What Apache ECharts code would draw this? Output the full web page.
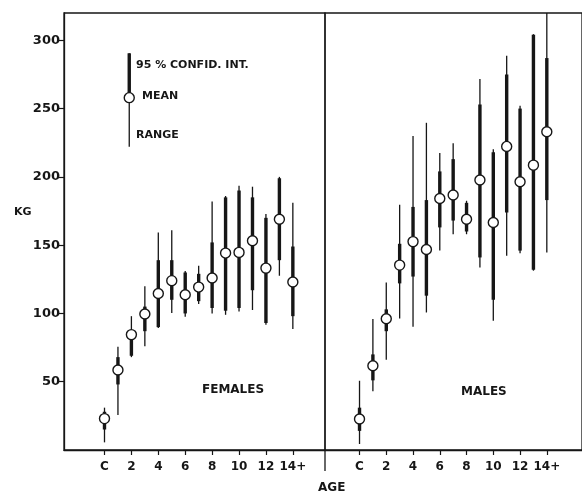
<!DOCTYPE html>
<html>
<head>
<meta charset="utf-8">
<script src="https://cdn.jsdelivr.net/npm/echarts@6/dist/echarts.min.js"></script>
<style>
  html, body { margin: 0; padding: 0; background: #fff; }
  #chart { width: 582px; height: 493px; }
</style>
</head>
<body>
<div id="chart"></div>
<script>
// ---- data ----
const ages = [0, 1, 2, 3, 4, 5, 6, 7, 8, 9, 10, 11, 12, 13, 14];
const ageTickValues = [0, 2, 4, 6, 8, 10, 12, 14];
const ageTickLabels = ['C', '2', '4', '6', '8', '10', '12', '14+'];
const kgTickValues = [50, 100, 150, 200, 250, 300];

const femaleMean      = [23, 58.6, 84.5, 99.6, 114.6, 124, 113.7, 119.3, 126, 144.2, 144.7, 153.2, 133.2, 169, 123];
const femaleCILow     = [15, 48, 69, 87, 90, 110, 100, 109, 104, 102, 104, 117, 93, 139, 98];
const femaleCIHigh    = [28, 68, 87, 105, 139, 139, 130, 129, 152, 185, 190, 185, 170, 199, 149];
const femaleRangeLow  = [5.6, 25.6, 68, 76, 89.3, 100.3, 97.6, 107, 100, 99, 101.5, 102.5, 91.7, 127.6, 88.6];
const femaleRangeHigh = [31, 75.6, 98, 120, 159.3, 161, 131, 135, 182, 186, 193.5, 192.8, 172.8, 200, 181];

const maleMean      = [22.7, 61.7, 96.1, 135.4, 152.6, 146.8, 184.2, 186.7, 169, 197.7, 166.6, 222.3, 196.4, 208.6, 233];
const maleCILow     = [14, 51, 87, 122, 127, 113, 163, 168, 160, 141, 110, 174, 146, 132, 183];
const maleCIHigh    = [31, 70, 103, 151, 178, 183, 204, 213, 181, 253, 218, 275, 250, 304, 287];
const maleRangeLow  = [4.4, 43, 66, 96.3, 90.3, 100.7, 146, 158, 158, 133.7, 94.7, 142.2, 144, 131.3, 144.7];
const maleRangeHigh = [50.7, 95.9, 122.7, 179.6, 230, 239.6, 217.4, 224.7, 182.5, 271.6, 220.3, 288.7, 252, 304.5, 320];

// legend key (drawn in the females panel, same mark style)
const keyAge = 1.84;
const keyRangeLow = 222;
const keyMean = 258;
const keyCITop = 290.5;

// ---- build ----
function rows(mean, cil, cih, rl, rh) {
  return ages.map((a, i) => [a, rl[i], rh[i], cil[i], cih[i], mean[i]]);
}
const INK = '#161616';
const FONT = 'DejaVu Sans';

function renderItem(params, api) {
  const x = api.value(0);
  const p = v => api.coord([x, v]);
  const rl = p(api.value(1)), rh = p(api.value(2));
  const cl = p(api.value(3)), ch = p(api.value(4));
  const m = p(api.value(5));
  return {
    type: 'group',
    children: [
      { type: 'line', shape: { x1: rl[0], y1: rl[1], x2: rh[0], y2: rh[1] },
        style: { stroke: INK, lineWidth: 1.3 } },
      { type: 'line', shape: { x1: cl[0], y1: cl[1], x2: ch[0], y2: ch[1] },
        style: { stroke: INK, lineWidth: 3.4 } },
      { type: 'circle', shape: { cx: m[0], cy: m[1], r: 5 },
        style: { fill: '#fff', stroke: INK, lineWidth: 1.4 } }
    ]
  };
}

function xAxis(gi, min, max) {
  return {
    type: 'value', gridIndex: gi, min: min, max: max,
    splitLine: { show: false },
    axisLine: { show: true, onZero: false, lineStyle: { color: INK, width: 1.3 } },
    axisTick: { show: true, customValues: ageTickValues, length: 5, inside: false,
                lineStyle: { color: INK, width: 1.2 } },
    axisLabel: { show: true, customValues: ageTickValues, margin: 11,
                 fontFamily: FONT, fontWeight: 'bold', fontSize: 12, color: INK,
                 formatter: v => ageTickLabels[ageTickValues.indexOf(v)] }
  };
}

const chart = echarts.init(document.getElementById('chart'), null, { renderer: 'canvas' });
chart.setOption({
  backgroundColor: '#fff',
  animation: false,
  grid: [
    { left: 64, top: 13, width: 261, height: 437, show: true, borderColor: INK, borderWidth: 1.3, backgroundColor: 'transparent' },
    { left: 325, top: 13, width: 260, height: 437, show: true, borderColor: INK, borderWidth: 1.3, backgroundColor: 'transparent' }
  ],
  xAxis: [ xAxis(0, -3.01, 16.39), xAxis(1, -2.58, 16.63) ],
  yAxis: [
    { type: 'value', gridIndex: 0, min: 0, max: 320,
      splitLine: { show: false },
      axisLine: { show: true, onZero: false, lineStyle: { color: INK, width: 1.3 } },
      axisTick: { show: true, customValues: kgTickValues, length: 6, lineStyle: { color: INK, width: 1.2 } },
      axisLabel: { show: true, customValues: kgTickValues, margin: 4,
                   fontFamily: FONT, fontWeight: 'bold', fontSize: 13, color: INK } },
    { type: 'value', gridIndex: 1, min: 0, max: 320, show: false, axisLine: { onZero: false } }
  ],
  series: [
    { type: 'custom', xAxisIndex: 0, yAxisIndex: 0, renderItem: renderItem, clip: true,
      data: rows(femaleMean, femaleCILow, femaleCIHigh, femaleRangeLow, femaleRangeHigh) },
    { type: 'custom', xAxisIndex: 1, yAxisIndex: 1, renderItem: renderItem, clip: true,
      data: rows(maleMean, maleCILow, maleCIHigh, maleRangeLow, maleRangeHigh) },
    { type: 'custom', xAxisIndex: 0, yAxisIndex: 0, renderItem: renderItem, clip: true,
      data: [[keyAge, keyRangeLow, keyCITop, keyMean, keyCITop, keyMean]] }
  ],
  graphic: [
    { type: 'line', shape: { x1: 325, y1: 450, x2: 325, y2: 471 }, style: { stroke: INK, lineWidth: 1.3 } },
    { type: 'text', left: 14, top: 207, style: { text: 'KG', font: 'bold 11px DejaVu Sans', fill: INK } },
    { type: 'text', left: 318, top: 482, style: { text: 'AGE', font: 'bold 12px DejaVu Sans', fill: INK } },
    { type: 'text', left: 136, top: 60, style: { text: '95 % CONFID. INT.', font: 'bold 11px DejaVu Sans', fill: INK } },
    { type: 'text', left: 142, top: 91, style: { text: 'MEAN', font: 'bold 11px DejaVu Sans', fill: INK } },
    { type: 'text', left: 136, top: 130, style: { text: 'RANGE', font: 'bold 11px DejaVu Sans', fill: INK } },
    { type: 'text', left: 202, top: 384, style: { text: 'FEMALES', font: 'bold 12px DejaVu Sans', fill: INK } },
    { type: 'text', left: 461, top: 386, style: { text: 'MALES', font: 'bold 12px DejaVu Sans', fill: INK } }
  ]
});
</script>
</body>
</html>
